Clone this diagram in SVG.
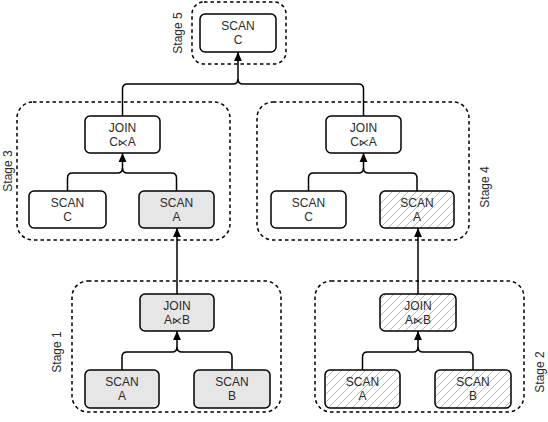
<svg xmlns="http://www.w3.org/2000/svg" width="548" height="422" viewBox="0 0 548 422">
<defs>
<pattern id="hatch" patternUnits="userSpaceOnUse" width="8" height="8">
<path d="M-2 2 L2 -2 M0 8 L8 0 M6 10 L10 6" stroke="#a8a8a8" stroke-width="0.8"/>
</pattern>
<marker id="arr" markerUnits="userSpaceOnUse" markerWidth="9" markerHeight="8" refX="8" refY="3.5" viewBox="0 0 8 7" orient="auto" overflow="visible">
<path d="M0 0 L8 3.5 L0 7 Z" fill="#000"/>
</marker>
</defs>
<style>
.stage{fill:none;stroke:#000;stroke-width:1.5;stroke-dasharray:3.5,3}
.node rect{stroke:#000;stroke-width:1.5}
.plain{fill:#fff}
.gray{fill:#e6e6e6}
.hatch{fill:url(#hatch)}
text{font-family:"Liberation Sans",Arial,sans-serif;font-size:12px;fill:#2a2a2a;text-anchor:middle}
.sj{font-family:"DejaVu Sans",sans-serif;font-size:10px}
.conn{fill:none;stroke:#000;stroke-width:1.5}
</style>

<g id="stages">
<rect id="stage5" class="stage" x="192" y="2" width="94" height="62" rx="12"/>
<rect id="stage3" class="stage" x="17" y="102" width="213" height="138" rx="16"/>
<rect id="stage4" class="stage" x="257" y="102" width="212" height="138" rx="16"/>
<rect id="stage1" class="stage" x="72" y="281" width="209" height="131" rx="16"/>
<rect id="stage2" class="stage" x="315" y="281" width="209" height="131" rx="16"/>
<text transform="translate(182 33) rotate(-90)">Stage 5</text>
<text transform="translate(12 171) rotate(-90)">Stage 3</text>
<text transform="translate(489 187) rotate(-90)">Stage 4</text>
<text transform="translate(61 352) rotate(-90)">Stage 1</text>
<text transform="translate(544 372) rotate(-90)">Stage 2</text>
</g>

<g id="connectors">
<path class="conn" d="M122.5 116 V89 Q122.5 84 127.5 84 H233 Q238 84 238 79 V52" marker-end="url(#arr)"/>
<path class="conn" d="M363.5 116 V89 Q363.5 84 358.5 84 H243 Q238 84 238 79"/>
<path class="conn" d="M67.5 191 V178 Q67.5 173 72.5 173 H117.5 Q122.5 173 122.5 168 V153" marker-end="url(#arr)"/>
<path class="conn" d="M176.5 191 V178 Q176.5 173 171.5 173 H127.5 Q122.5 173 122.5 168"/>
<path class="conn" d="M308.5 191 V178 Q308.5 173 313.5 173 H358.5 Q363.5 173 363.5 168 V153" marker-end="url(#arr)"/>
<path class="conn" d="M417 191 V178 Q417 173 412 173 H368.5 Q363.5 173 363.5 168"/>
<path class="conn" d="M177 294 V228" marker-end="url(#arr)"/>
<path class="conn" d="M418 294 V228" marker-end="url(#arr)"/>
<path class="conn" d="M122 370 V357 Q122 352 127 352 H172 Q177 352 177 347 V331" marker-end="url(#arr)"/>
<path class="conn" d="M232 370 V357 Q232 352 227 352 H182 Q177 352 177 347"/>
<path class="conn" d="M362.5 370 V357 Q362.5 352 367.5 352 H413 Q418 352 418 347 V331" marker-end="url(#arr)"/>
<path class="conn" d="M473 370 V357 Q473 352 468 352 H423 Q418 352 418 347"/>
</g>

<g id="s5-scan-c" class="node"><rect class="plain" x="200" y="14" width="76" height="38" rx="5"/><text x="238" y="30">SCAN</text><text x="238" y="44">C</text></g>

<g id="s3-join" class="node"><rect class="plain" x="85" y="116" width="75" height="37" rx="5"/><text x="122.5" y="132">JOIN</text><text x="122.5" y="146">C<tspan class="sj">⋉</tspan>A</text></g>
<g id="s3-scan-c" class="node"><rect class="plain" x="29" y="191" width="77" height="37" rx="5"/><text x="67.5" y="207">SCAN</text><text x="67.5" y="221">C</text></g>
<g id="s3-scan-a" class="node"><rect class="gray" x="139" y="191" width="75" height="37" rx="5"/><text x="176.5" y="207">SCAN</text><text x="176.5" y="221">A</text></g>

<g id="s4-join" class="node"><rect class="plain" x="326" y="116" width="75" height="37" rx="5"/><text x="363.5" y="132">JOIN</text><text x="363.5" y="146">C<tspan class="sj">⋉</tspan>A</text></g>
<g id="s4-scan-c" class="node"><rect class="plain" x="271" y="191" width="75" height="37" rx="5"/><text x="308.5" y="207">SCAN</text><text x="308.5" y="221">C</text></g>
<g id="s4-scan-a" class="node"><rect class="hatch" x="380" y="191" width="74" height="37" rx="5"/><text x="417" y="207">SCAN</text><text x="417" y="221">A</text></g>

<g id="s1-join" class="node"><rect class="gray" x="140" y="294" width="74" height="37" rx="5"/><text x="177" y="310">JOIN</text><text x="177" y="324">A<tspan class="sj">⋉</tspan>B</text></g>
<g id="s1-scan-a" class="node"><rect class="gray" x="85" y="370" width="74" height="38" rx="5"/><text x="122" y="386">SCAN</text><text x="122" y="400">A</text></g>
<g id="s1-scan-b" class="node"><rect class="gray" x="194" y="370" width="76" height="38" rx="5"/><text x="232" y="386">SCAN</text><text x="232" y="400">B</text></g>

<g id="s2-join" class="node"><rect class="hatch" x="380" y="294" width="76" height="37" rx="5"/><text x="418" y="310">JOIN</text><text x="418" y="324">A<tspan class="sj">⋉</tspan>B</text></g>
<g id="s2-scan-a" class="node"><rect class="hatch" x="325" y="370" width="75" height="38" rx="5"/><text x="362.5" y="386">SCAN</text><text x="362.5" y="400">A</text></g>
<g id="s2-scan-b" class="node"><rect class="hatch" x="435" y="370" width="76" height="38" rx="5"/><text x="473" y="386">SCAN</text><text x="473" y="400">B</text></g>
</svg>
